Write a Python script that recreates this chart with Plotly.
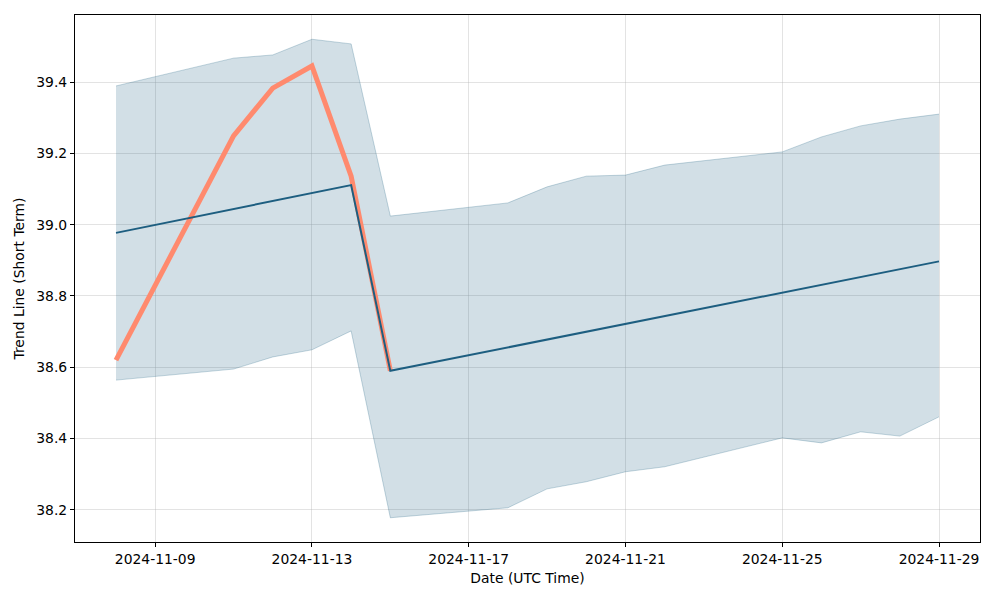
import plotly.graph_objects as go

band_dates = ["2024-11-08", "2024-11-11", "2024-11-12", "2024-11-13", "2024-11-14",
              "2024-11-15", "2024-11-18", "2024-11-19", "2024-11-20", "2024-11-21",
              "2024-11-22", "2024-11-25", "2024-11-26", "2024-11-27", "2024-11-28",
              "2024-11-29"]
band_upper = [39.389, 39.467, 39.476, 39.520, 39.507, 39.024, 39.061, 39.106, 39.136,
              39.139, 39.167, 39.204, 39.246, 39.277, 39.296, 39.310]
band_lower = [38.564, 38.595, 38.629, 38.649, 38.702, 38.178, 38.206, 38.259, 38.279,
              38.307, 38.321, 38.402, 38.388, 38.419, 38.407, 38.461]

trend_dates = ["2024-11-08", "2024-11-14", "2024-11-15", "2024-11-29"]
trend_values = [38.977, 39.111, 38.590, 38.897]

price_dates = ["2024-11-08", "2024-11-11", "2024-11-12", "2024-11-13", "2024-11-14", "2024-11-15"]
price_values = [38.620, 39.249, 39.383, 39.445, 39.136, 38.590]

y_ticks = [38.2, 38.4, 38.6, 38.8, 39.0, 39.2, 39.4]
x_ticks = ["2024-11-09", "2024-11-13", "2024-11-17", "2024-11-21", "2024-11-25", "2024-11-29"]

band_line = "rgba(29,94,128,0.25)"
band_fill = "rgba(29,94,128,0.2)"

fig = go.Figure()
fig.add_trace(go.Scatter(x=band_dates, y=band_upper, mode="lines",
                         line=dict(color=band_line, width=1), showlegend=False, hoverinfo="skip"))
fig.add_trace(go.Scatter(x=band_dates, y=band_lower, mode="lines", fill="tonexty",
                         fillcolor=band_fill, line=dict(color=band_line, width=1),
                         showlegend=False, hoverinfo="skip"))
fig.add_trace(go.Scatter(x=price_dates, y=price_values, mode="lines",
                         line=dict(color="#ff8a6e", width=5), showlegend=False))
fig.add_trace(go.Scatter(x=trend_dates, y=trend_values, mode="lines",
                         line=dict(color="#1d5e80", width=2), showlegend=False))

axis_common = dict(showline=True, linecolor="black", linewidth=1, mirror=True,
                   ticks="outside", ticklen=4, tickcolor="black",
                   showgrid=True, gridcolor="rgba(176,176,176,0.35)", gridwidth=1,
                   zeroline=False, tickfont=dict(size=13.9, color="black"))

fig.update_layout(
    width=1000, height=600,
    margin=dict(l=75, r=20, t=15, b=58),
    paper_bgcolor="white", plot_bgcolor="white",
    font=dict(family="DejaVu Sans", size=13.9, color="black"),
    xaxis=dict(type="date", range=["2024-11-06 22:54", "2024-11-30 01:06"],
               tickvals=x_ticks, ticktext=x_ticks,
               title=dict(text="Date (UTC Time)", font=dict(size=13.9), standoff=7),
               **axis_common),
    yaxis=dict(range=[38.110, 39.588], tickvals=y_ticks,
               ticktext=[f"{v:.1f}" for v in y_ticks],
               title=dict(text="Trend Line (Short Term)", font=dict(size=13.9), standoff=8),
               **axis_common),
)

fig.write_html("out.html")
